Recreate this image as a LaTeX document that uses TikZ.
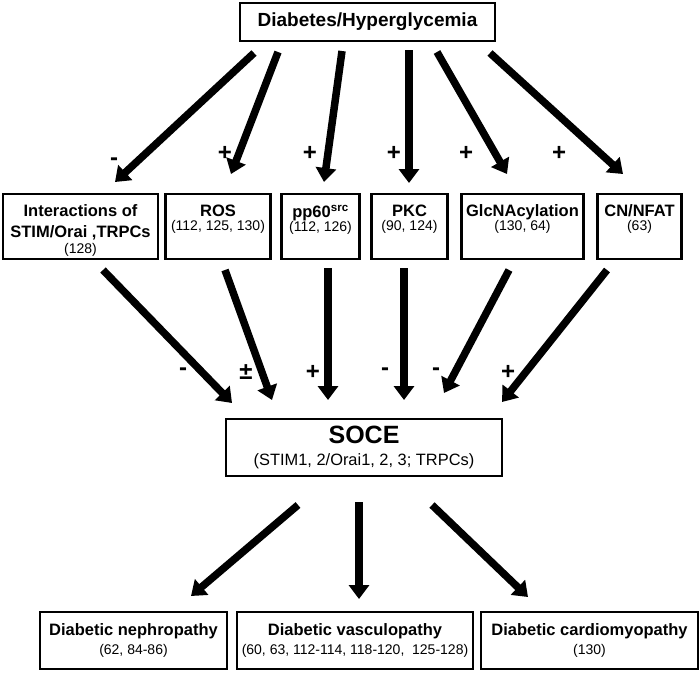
\documentclass[tikz,border=0pt]{standalone}
\usepackage{fontspec}
\setmainfont{Liberation Sans}
\usetikzlibrary{arrows.meta}
\newcommand{\refsz}{\fontsize{14}{15}\selectfont}

\begin{document}
\begin{tikzpicture}[x=1pt,y=-1pt]
	% styles
	\tikzset{box/.style={draw,line width=2.6pt,inner sep=0pt,align=center},
		midtxt/.style={anchor=north,align=center,inner sep=0pt,font=\bfseries\fontsize{16.5}{21}\selectfont},
		fat/.style={line width=7.5pt,-{Triangle[length=14pt,width=20pt]}},
		sgn/.style={inner sep=0pt,font=\bfseries\fontsize{24}{24}\selectfont}}
	\useasboundingbox (0,0) rectangle (700,673);
	
	% top box
	\node[box,minimum width=255pt,minimum height=38pt,font=\bfseries\fontsize{19}{20}\selectfont] (top) at (367.5,22) {Diabetes/Hyperglycemia};
	
	% middle boxes
	\foreach \n/\x/\w in {inter/80.5/155,ros/218/105,pp/320.5/78,pkc/409.5/76,glc/522.5/122,cn/639.5/84} {
		\node[box,minimum width=\w pt,minimum height=65pt] (\n) at (\x,226.5) {};
	}
	% text of the middle boxes
	\node[midtxt] (inter-t) at ([yshift=-12pt]inter.north) {Interactions of\\STIM/Orai ,TRPCs\\[-5pt]{\refsz\mdseries (128)}};
	\node[midtxt] (ros-t) at ([yshift=-12pt]ros.north) {ROS\\[-7pt]{\refsz\mdseries (112, 125, 130)}};
	\node[midtxt] (pp-t) at ([yshift=-12pt]pp.north) {pp60\textsuperscript{src}\\[-7pt]{\refsz\mdseries (112, 126)}};
	\node[midtxt] (pkc-t) at ([yshift=-12pt]pkc.north) {PKC\\[-7pt]{\refsz\mdseries (90, 124)}};
	\node[midtxt] (glc-t) at ([yshift=-12pt]glc.north) {GlcNAcylation\\[-7pt]{\refsz\mdseries (130, 64)}};
	\node[midtxt] (cn-t) at ([yshift=-12pt]cn.north) {CN/NFAT\\[-7pt]{\refsz\mdseries (63)}};
	
	% SOCE box
	\node[box,minimum width=276pt,minimum height=57pt,font=\fontsize{16.4}{22}\selectfont] (soce) at (364,447.5) {{\bfseries\fontsize{25}{26}\selectfont SOCE}\\(STIM1, 2/Orai1, 2, 3; TRPCs)};
	
	% bottom boxes
	\foreach \n/\x/\w/\a/\b in {neph/133.5/187/{Diabetic nephropathy}/{(62, 84-86)},
		vasc/355/236/{Diabetic vasculopathy}/{(60, 63, 112-114, 118-120,\ \ 125-128)},
		cardio/589.5/217/{Diabetic cardiomyopathy}/{(130)}} {
		\node[box,minimum width=\w pt,minimum height=57pt,font=\fontsize{14}{19}\selectfont] (\n) at (\x,640.5) {{\bfseries\fontsize{16.5}{19}\selectfont \a}\\\b};
	}
	
	% end points of the arrows
	\foreach \n/\x/\y in {s1/254/53,e1/115/182,s2/278/52,e2/231/174,s3/342/51,e3/324/182,
		s4/409/50,e4/409/183,s5/437/52,e5/507/174,s6/490/53,e6/623/174,
		u1/103/270,v1/232/403,u2/225/270,v2/272/400,u3/328/268,v3/328/400,
		u4/404/268,v4/404/400,u5/509/270,v5/444/393,u6/607/270,v6/502/402,
		p1/298/505,q1/191/596,p2/359/502,q2/359/599,p3/432/505,q3/528/597} {
		\coordinate (\n) at (\x,\y);
	}
	
	% draw the arrows
	\foreach \i in {1,...,6} { \draw[fat] (s\i) -- (e\i); }
	\foreach \i in {1,...,6} { \draw[fat] (u\i) -- (v\i); }
	\foreach \i in {1,2,3} { \draw[fat] (p\i) -- (q\i); }
	
	% signs
	\foreach \n/\x/\y/\s in {ga1/114/162/-,ga2/225/153/+,ga3/310/153/+,ga4/394/153/+,ga5/466/153/+,ga6/559/153/+,
		gb1/183/372/-,gb2/246/372/±,gb3/313/372/+,gb4/385/372/-,gb5/436/372/-,gb6/508/372/+} {
		\node[sgn] (\n) at (\x,\y) {\s};
	}
\end{tikzpicture}
\end{document}
